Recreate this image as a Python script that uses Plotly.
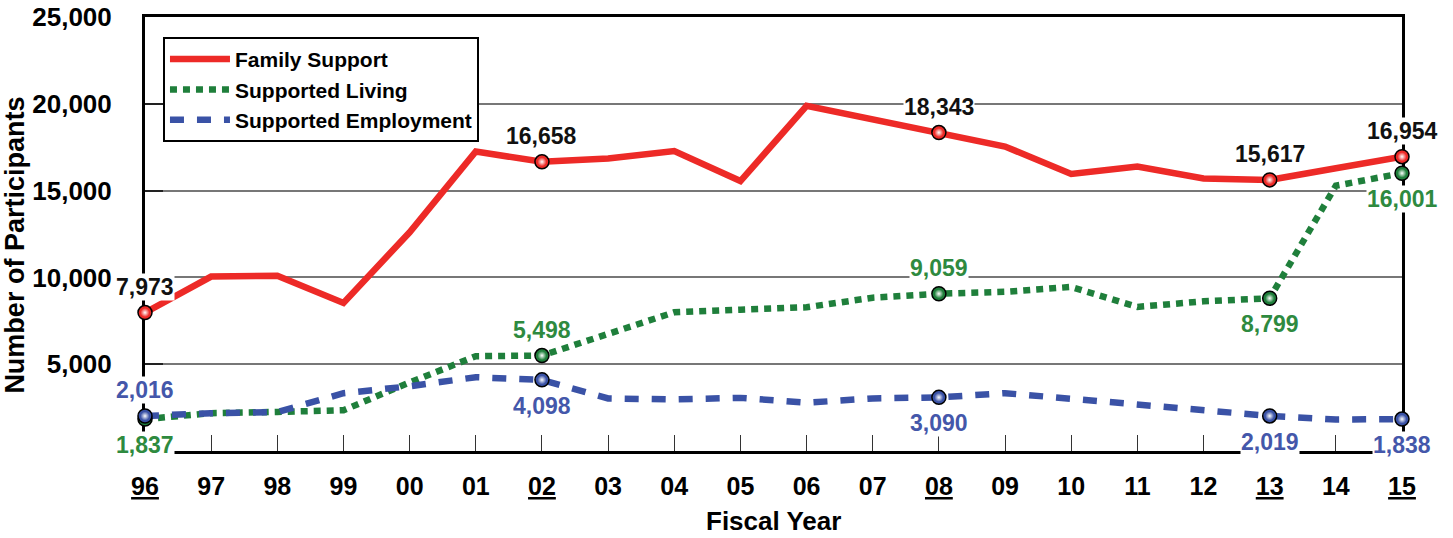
import plotly.graph_objects as go

years = ['96', '97', '98', '99', '00', '01', '02', '03', '04', '05',
         '06', '07', '08', '09', '10', '11', '12', '13', '14', '15']
family_support = [7973, 10050, 10100, 8530, 12600, 17250, 16658, 16850, 17280, 15550,
                  19880, 19100, 18343, 17540, 15960, 16390, 15700, 15617, 16290, 16954]
supported_living = [1837, 2180, 2250, 2350, 3950, 5460, 5498, 6700, 7990, 8140,
                    8280, 8830, 9059, 9170, 9450, 8300, 8620, 8799, 15280, 16001]
supported_employment = [2016, 2180, 2240, 3330, 3730, 4250, 4098, 3030, 2970, 3060,
                        2780, 3030, 3090, 3330, 3010, 2680, 2340, 2019, 1810, 1838]
highlight_years = ['96', '02', '08', '13', '15']
y_ticks = [5000, 10000, 15000, 20000, 25000]

# label placement per series for highlighted years (+1 above, -1 below)
family_label_side = [1, 1, 1, 1, 1]
living_label_side = [-1, 1, 1, -1, -1]
employment_label_side = [1, -1, -1, -1, -1]

FONT = "Liberation Sans, Arial, Helvetica, sans-serif"
RED = '#ED2A27'
GREEN = '#1F7F3B'
BLUE = '#3A52A6'
GREEN_TXT = '#2E8A3F'
BLUE_TXT = '#4457AA'

x_idx = list(range(len(years)))
hl_idx = [years.index(y) for y in highlight_years]

series = [
    ('Family Support', family_support, RED, 'solid', family_label_side, '#111111'),
    ('Supported Living', supported_living, GREEN, '7px,6px', living_label_side, GREEN_TXT),
    ('Supported Employment', supported_employment, BLUE, '14px,13px', employment_label_side, BLUE_TXT),
]

fig = go.Figure()

for name, vals, col, dash, sides, tcol in series:
    fig.add_trace(go.Scatter(
        x=x_idx, y=vals, mode='lines', name=name,
        line=dict(color=col, width=6.5, dash=dash),
        cliponaxis=False,
    ))

for name, vals, col, dash, sides, tcol in series:
    hx = hl_idx
    hy = [vals[i] for i in hl_idx]
    fig.add_trace(go.Scatter(
        x=hx, y=hy, mode='markers', showlegend=False,
        marker=dict(size=14, color=col, symbol='circle',
                    line=dict(color='black', width=1.5)),
        cliponaxis=False, hoverinfo='skip',
    ))
    fig.add_trace(go.Scatter(
        x=hx, y=hy, mode='markers', showlegend=False,
        marker=dict(size=9, color=col, symbol='circle',
                    gradient=dict(type='radial', color='white'),
                    line=dict(width=0)),
        cliponaxis=False, hoverinfo='skip',
    ))

annotations = []
for name, vals, col, dash, sides, tcol in series:
    for i, s in zip(hl_idx, sides):
        annotations.append(dict(
            x=i, y=vals[i], xref='x', yref='y', showarrow=False,
            text=f"{vals[i]:,}", yshift=26 * s,
            font=dict(family=FONT, size=23, color=tcol, weight='bold'),
            bgcolor='white', borderpad=0,
        ))

annotations.append(dict(
    x=0.5, y=-0.161, xref='paper', yref='paper', showarrow=False,
    text='Fiscal Year', xanchor='center', yanchor='middle',
    font=dict(family=FONT, size=26, color='black', weight='bold')))
annotations.append(dict(
    x=-0.1036, y=0.475, xref='paper', yref='paper', showarrow=False,
    text='Number of Participants', textangle=-90, xanchor='center', yanchor='middle',
    font=dict(family=FONT, size=27, color='black', weight='bold')))

ticktext = [f"<u>{y}</u>" if y in highlight_years else y for y in years]

fig.update_layout(
    width=1453, height=538,
    margin=dict(l=145, r=51, t=17, b=87, autoexpand=False),
    paper_bgcolor='white', plot_bgcolor='white',
    font=dict(family=FONT, color='black'),
    showlegend=True,
    legend=dict(
        x=0.0143, y=0.954, xanchor='left', yanchor='top',
        bgcolor='white', bordercolor='black', borderwidth=2,
        font=dict(family=FONT, size=21, color='black', weight='bold'),
        tracegroupgap=0, itemwidth=60,
    ),
    annotations=annotations,
    xaxis=dict(
        range=[0, len(years) - 1], tickmode='array', tickvals=x_idx, ticktext=ticktext,
        showgrid=False, zeroline=False, automargin=False,
        showline=True, linecolor='black', linewidth=3, mirror=True,
        ticks='inside', ticklen=16, tickwidth=1.2, tickcolor='#333333',
        tickfont=dict(family=FONT, size=25, color='black', weight='bold'),
        ticklabelstandoff=11, layer='below traces',
    ),
    yaxis=dict(
        range=[0, 25000], tickmode='array', tickvals=y_ticks,
        ticktext=[f"{v:,}" for v in y_ticks],
        showgrid=True, gridcolor='#777777', gridwidth=1.5, zeroline=False, automargin=False,
        showline=True, linecolor='black', linewidth=3, mirror=True,
        ticks='inside', ticklen=18, tickwidth=2, tickcolor='#222222',
        tickfont=dict(family=FONT, size=26, color='black', weight='bold'),
        ticklabelstandoff=25, layer='below traces',
    ),
)

fig.write_html("out.html", config={'displayModeBar': False},
               post_script="document.body.style.margin='0';")
